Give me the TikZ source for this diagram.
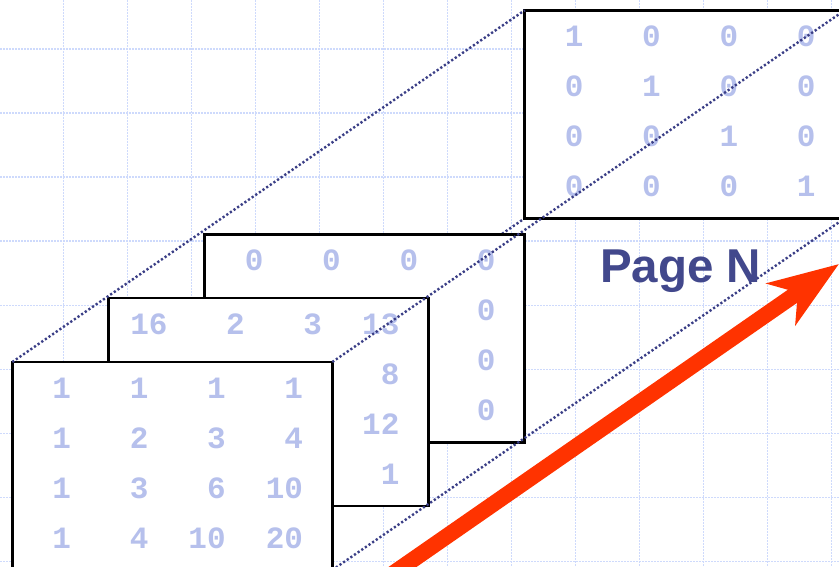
\documentclass[tikz,border=0pt]{standalone}
\usepackage{fontspec}
\setmainfont{Liberation Sans}
\newfontfamily\monofont{Liberation Mono}
\usetikzlibrary{arrows.meta,calc}

\definecolor{gridblue}{RGB}{206,218,252}
\definecolor{numblue}{RGB}{182,192,236}
\definecolor{dotblue}{RGB}{58,62,134}
\definecolor{titleblue}{RGB}{66,72,140}
\definecolor{arrowred}{RGB}{255,51,0}

\pgfdeclarelayer{behind}
\pgfsetlayers{behind,main}

\begin{document}
\begin{tikzpicture}[x=1pt, y=-1pt,
    page/.style={draw=black, line width=2.6pt, fill=white, minimum width=320pt,
        minimum height=208pt, inner sep=0pt, outer sep=0pt, anchor=north west},
    entry/.style={text=numblue, font=\monofont\bfseries\fontsize{31}{31}\selectfont,
        anchor=base east, inner sep=0pt},
    guide/.style={dotblue, line width=2.4pt, dash pattern=on 2.2pt off 2.2pt},
    gridline/.style={gridblue, line width=1.6pt, dash pattern=on 2pt off 1pt}]

    \pgfmathsetmacro{\colA}{59}
    \pgfmathsetmacro{\colB}{77.3}
    \pgfmathsetmacro{\rowA}{36.3}
    \pgfmathsetmacro{\rowB}{50}

    \useasboundingbox (0,0) rectangle (839,567);
    \clip (0,0) rectangle (839,567);

    % 背景の格子
    \begin{pgfonlayer}{behind}
        \fill[white] (0,0) rectangle (839,567);
        \foreach \gx in {63.3,127.3,...,831.3} {
            \draw[gridline] (\gx,0) -- (\gx,567);
        }
        \foreach \gy in {49.3,113.3,...,561.3} {
            \draw[gridline] (0,\gy) -- (839,\gy);
        }
    \end{pgfonlayer}

    % Page N（単位行列）
    \node[page] (pageN) at (524.7,10.3) {};
    \foreach \r in {1,...,4} {
        \foreach \c in {1,...,4} {
            \pgfmathtruncatemacro{\v}{ifthenelse(\r==\c,1,0)}
            \node[entry] (n-\r-\c) at ($(pageN.north west)+({\colA+\colB*(\c-1)},{\rowA+\rowB*(\r-1)})$) {\v};
        }
    }

    % 3枚目（零行列）
    \node[page] (third) at (204.7,234.3) {};
    \foreach \c in {1,...,4} {
        \node[entry] (t-1-\c) at ($(third.north west)+({\colA+\colB*(\c-1)},\rowA)$) {0};
    }
    \foreach \r in {2,3,4} {
        \node[entry] (t-\r-4) at ($(third.north west)+({\colA+\colB*3},{\rowA+\rowB*(\r-1)})$) {0};
    }

    % 2枚目（魔方陣）
    \node[page] (second) at (108.7,298) {};
    \foreach \v [count=\c] in {16,2,3,13} {
        \node[entry] (s-1-\c) at ($(second.north west)+({\colA+\colB*(\c-1)},\rowA)$) {\v};
    }
    \foreach \v [count=\r from 2] in {8,12,1} {
        \node[entry] (s-\r-4) at ($(second.north west)+({\colA+\colB*3},{\rowA+\rowB*(\r-1)})$) {\v};
    }

    % 1枚目（パスカル行列）
    \node[page] (front) at (12.3,362) {};
    \foreach \row [count=\r] in {{1,1,1,1},{1,2,3,4},{1,3,6,10},{1,4,10,20}} {
        \foreach \v [count=\c] in \row {
            \node[entry] (f-\r-\c) at ($(front.north west)+({\colA+\colB*(\c-1)},{\rowA+\rowB*(\r-1)})$) {\v};
        }
    }

    % 点線（奥の1本は後ろに隠れる）
    \begin{pgfonlayer}{behind}
        \draw[guide] (front.south west) -- (pageN.south west);
    \end{pgfonlayer}
    \draw[guide] (front.north west) -- (pageN.north west);
    \draw[guide] (front.north east) -- (pageN.north east);
    \draw[guide] (front.south east) -- (pageN.south east);

    % ラベル
    \node[text=titleblue, font=\bfseries\fontsize{47.5}{47.5}\selectfont,
        anchor=base west, inner sep=0pt] (title) at (600,282.3) {Page N};

    % 赤い矢印
    \coordinate (arrS) at (380,582.6);
    \coordinate (arrE) at (839,264);
    \draw[arrowred, line width=16pt, -{Stealth[length=70pt, width=50pt, inset=20pt]}]
        (arrS) -- (arrE);

\end{tikzpicture}
\end{document}
